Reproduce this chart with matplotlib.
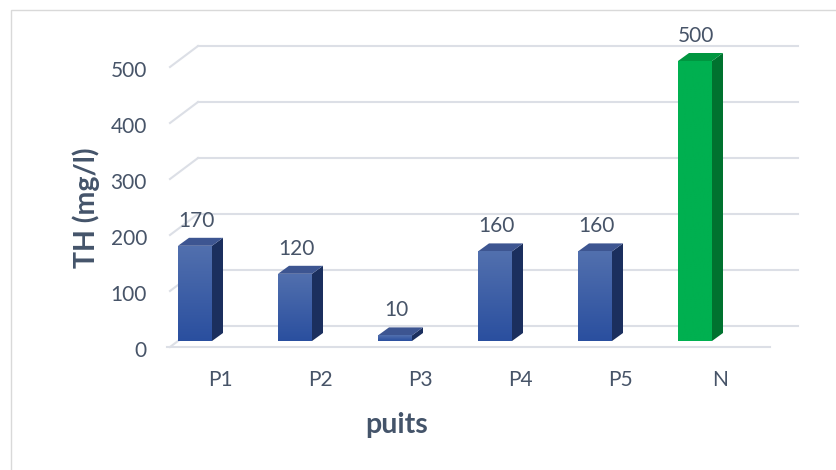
import numpy as np
import matplotlib
matplotlib.use("Agg")
import matplotlib.pyplot as plt
import matplotlib.transforms as mtransforms
from matplotlib.lines import Line2D
from matplotlib.patches import Polygon, Rectangle
from matplotlib.colors import LinearSegmentedColormap

# ---- data -------------------------------------------------------------
categories = ["P1", "P2", "P3", "P4", "P5", "N"]
th_values = [170, 120, 10, 160, 160, 500]
y_ticks = [0, 100, 200, 300, 400, 500]
is_norm = [False, False, False, False, False, True]

# ---- style ------------------------------------------------------------
plt.rcParams["font.family"] = ["Lato", "DejaVu Sans"]
TEXT_C = "#475468"
TITLE_C = "#44546A"
GRID_C = "#dcdfe6"

BLUE = dict(top_face="#3d5591", side_top="#25396d", side_bot="#1b2f5e",
            front_top="#5270ae", front_bot="#2a4f9f")
GREEN = dict(top_face="#009640", side_top="#007a35", side_bot="#00722f",
             front_top="#00b050", front_bot="#00b050")

DPI = 100
W, H = 837, 470
fig = plt.figure(figsize=(W / DPI, H / DPI), dpi=DPI)
fig.patch.set_facecolor("white")

# chart-area frame
fig.add_artist(Rectangle((11 / W, -0.1), 1.2, (H - 10) / H + 0.1,
                         transform=fig.transFigure, fill=False,
                         edgecolor="#d9d9d9", lw=1.0))

# axes = plane of the bars' front faces
ax = fig.add_axes([155 / W, 129 / H, 640 / W, 280 / H])
ax.set_xlim(-0.4, 6.0)
ax.set_ylim(0, 500)
ax.patch.set_alpha(0)
for s in ax.spines.values():
    s.set_visible(False)

# pixel offsets of the other depth planes relative to the bars' front plane
BACK_WALL = np.array([20.0, 15.0])
FLOOR_FRONT = np.array([-8.0, -6.0])
BAR_DEPTH = np.array([11.0, 8.0])


def shifted(off):
    return ax.transData + mtransforms.ScaledTranslation(off[0] / DPI, off[1] / DPI,
                                                         fig.dpi_scale_trans)


def disp(x, y, off=(0.0, 0.0)):
    return ax.transData.transform((x, y)) + np.asarray(off)


ident = mtransforms.IdentityTransform()
x_left, x_right = -0.17, 5.83

# back-wall gridlines and left-wall diagonals
for v in y_ticks:
    ax.add_line(Line2D([x_left, x_right], [v, v], transform=shifted(BACK_WALL),
                       color=GRID_C, lw=1.5, clip_on=False, zorder=0))
    p0 = disp(x_left, v, FLOOR_FRONT)
    p1 = disp(x_left, v, BACK_WALL)
    ax.add_line(Line2D([p0[0], p1[0]], [p0[1], p1[1]], transform=ident,
                       color=GRID_C, lw=1.5, clip_on=False, zorder=0))

# floor front edge
ax.add_line(Line2D([-0.2, x_right], [0, 0], transform=shifted(FLOOR_FRONT),
                   color=GRID_C, lw=1.5, clip_on=False, zorder=0))

# ---- 3D-looking bars -----------------------------------------------------
x = np.arange(len(categories))
bw = 0.34
bars = ax.bar(x, th_values, width=bw, zorder=3,
              color=[GREEN["front_top"] if n else BLUE["front_bot"] for n in is_norm],
              linewidth=0)

grad = np.linspace(0, 1, 256).reshape(-1, 1)
for xi, v, n, bar in zip(x, th_values, is_norm, bars):
    c = GREEN if n else BLUE
    cmap = LinearSegmentedColormap.from_list("f", [c["front_bot"], c["front_top"]])
    im = ax.imshow(grad, extent=[xi - bw / 2, xi + bw / 2, 0, v], origin="lower",
                   cmap=cmap, aspect="auto", interpolation="bilinear", zorder=3.5)
    im.set_clip_path(bar)

    l, r = xi - bw / 2, xi + bw / 2
    side = [disp(r, 0), disp(r, v), disp(r, v, BAR_DEPTH), disp(r, 0, BAR_DEPTH)]
    top = [disp(l, v), disp(r, v), disp(r, v, BAR_DEPTH), disp(l, v, BAR_DEPTH)]
    ax.add_patch(Polygon(side, closed=True, transform=ident, clip_on=False,
                         facecolor=c["side_bot"], edgecolor="none", zorder=3))
    ax.add_patch(Polygon(top, closed=True, transform=ident, clip_on=False,
                         facecolor=c["top_face"], edgecolor="none", zorder=3))

    ax.annotate(f"{v}", xy=(xi, v), xytext=(1, 25), textcoords="offset pixels",
                ha="center", va="center", fontsize=15, color=TEXT_C,
                annotation_clip=False)

ax.set_xlim(-0.4, 6.0)
ax.set_ylim(0, 500)

# ---- ticks ----------------------------------------------------------------
ax.set_yticks(y_ticks)
ax.set_yticklabels([str(t) for t in y_ticks])
ax.set_xticks(x)
ax.set_xticklabels(categories)
ax.tick_params(axis="both", length=0, labelsize=15, labelcolor=TEXT_C)
ax.tick_params(axis="y", pad=5.8)
ax.tick_params(axis="x", pad=21)

for lab in ax.get_yticklabels():
    lab.set_transform(lab.get_transform() +
                      mtransforms.ScaledTranslation(0, -8 / DPI, fig.dpi_scale_trans))
for lab in ax.get_xticklabels():
    lab.set_transform(lab.get_transform() +
                      mtransforms.ScaledTranslation(25 / DPI, 0, fig.dpi_scale_trans))

# ---- axis titles ------------------------------------------------------------
ax.set_ylabel("TH (mg/l)", fontsize=20.5, fontweight="bold", color=TITLE_C)
ax.yaxis.set_label_coords((86 - 155) / 640, (341 - 208) / 280)
ax.yaxis.label.set_va("center")
ax.set_xlabel("puits", fontsize=20.5, fontweight="bold", color=TITLE_C)
ax.xaxis.set_label_coords((397 - 155) / 640, -(425 - 341) / 280)
ax.xaxis.label.set_va("center")

fig.savefig("out.png", dpi=DPI)
